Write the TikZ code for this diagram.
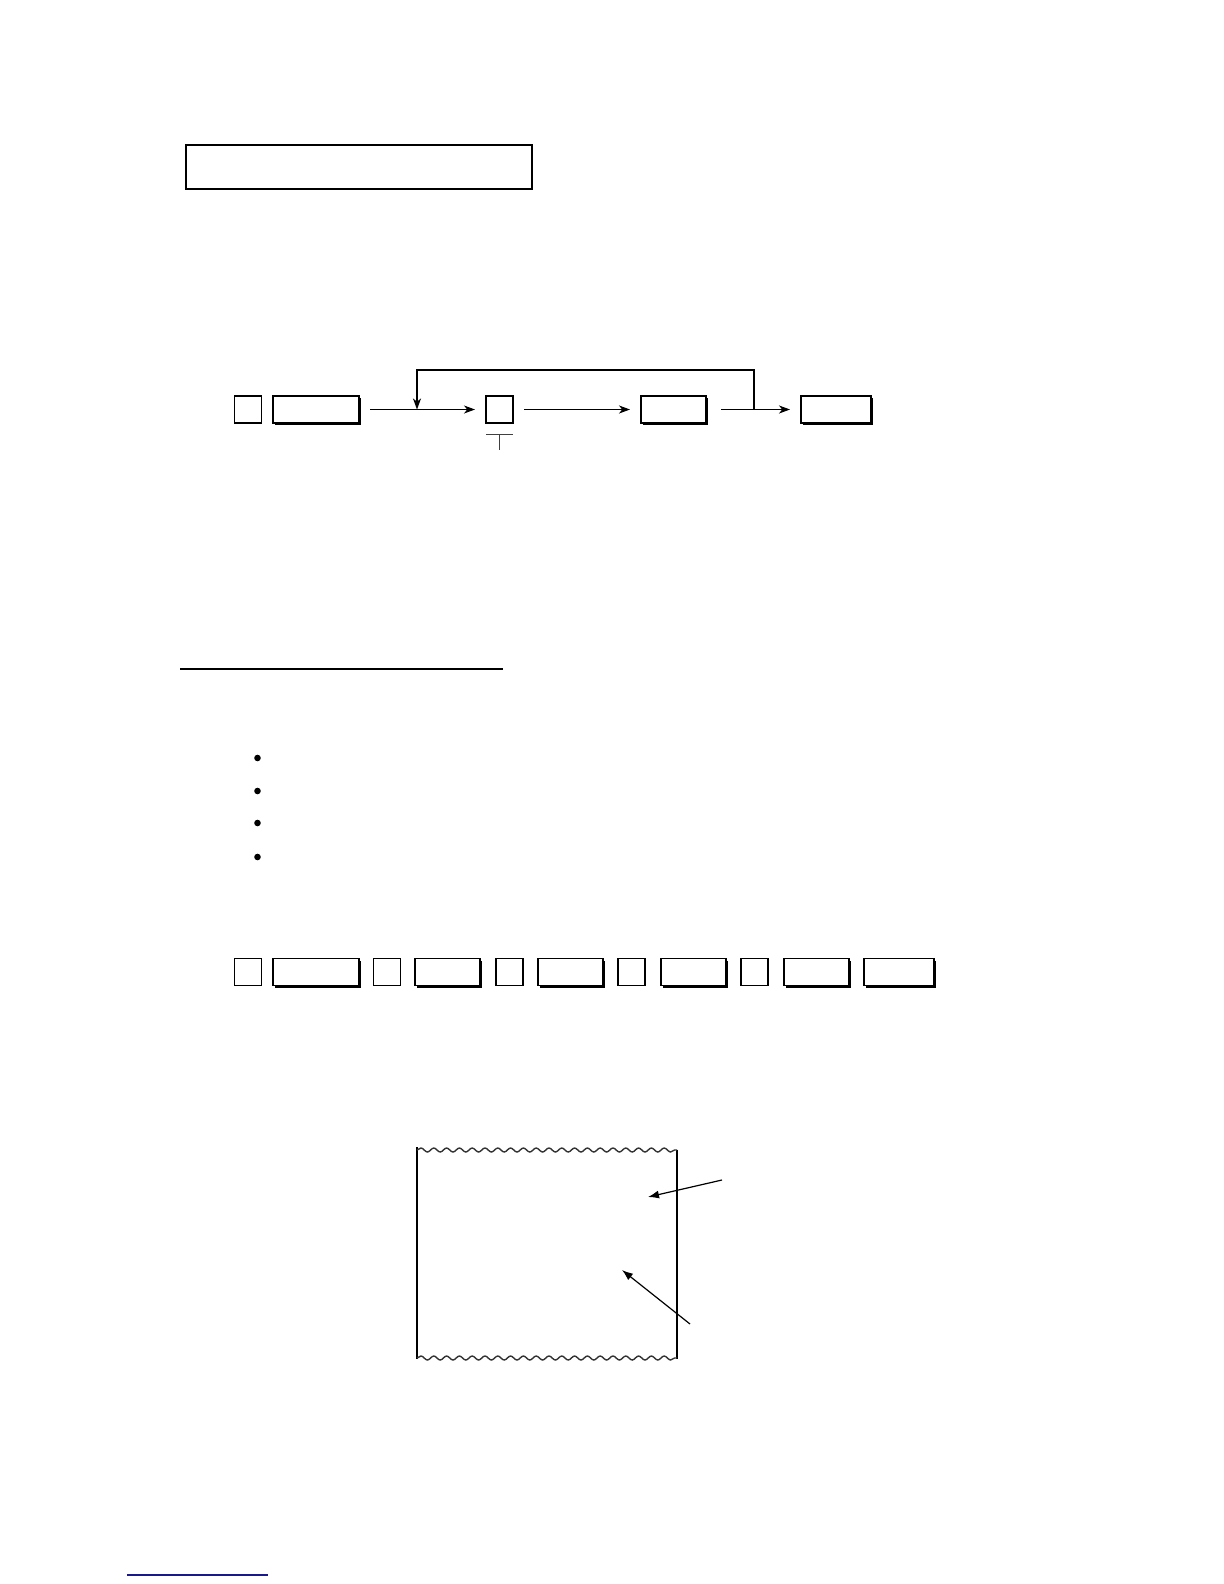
\documentclass[tikz,border=0pt]{standalone}
\usetikzlibrary{arrows.meta, shadows, decorations.pathmorphing}
\tikzset{%
>={Stealth[length=5.5bp,width=4bp,inset=1.6bp]},
  % Specifications for style of key boxes and lines:
            keysmall/.style = {draw=black, fill=white, line width=0.7bp,
                            minimum width=13.5bp, minimum height=13.5bp,
                            inner sep=0pt, outer sep=0pt},
            keywide/.style = {keysmall, drop shadow={shadow xshift=1.2bp,
                            shadow yshift=-1.2bp, fill=black, opacity=1}},
            flow/.style = {->, line width=0.6bp, shorten <=5.5bp, shorten >=5.5bp},
            pointer/.style = {-{Latex[length=5.5bp,width=4bp]}, line width=0.6bp},
            tear/.style = {decorate, decoration={snake, segment length=6.4bp,
                            amplitude=1bp}, line width=0.7bp, draw=black!80}
}
\begin{document}
\begin{tikzpicture}[x=0.5bp, y=-0.5bp]
                        \useasboundingbox (0,0) rectangle (1224,1584);
                        % title frame
                        \node (title)[draw, line width=1.4bp, minimum width=173bp, minimum height=22bp, inner sep=0pt] at (359,167){};
                        % first key sequence
                        \node (k1)[keysmall] at (248,409.5){};
                        \node (k2)[keywide, minimum width=43bp] at (316,409.5){};
                        \node (k3)[keysmall] at (499.5,409.5){};
                        \node (k4)[keywide, minimum width=32.5bp] at (673.5,409.5){};
                        \node (k5)[keywide, minimum width=35bp] at (836,409.5){};
                        \coordinate (merge) at (417,409.5);
                        \coordinate (split) at (754,409.5);
                        \draw[flow] (k2)--(k3);
                        \draw[flow] (k3)--(k4);
                        \draw[flow, shorten <=7.5bp] (k4)--(k5);
                        \draw[flow, shorten <=0pt, shorten >=0pt] (split)--++(0,-39.5)-|(merge);
                        \draw[line width=0.65bp, black!75] ([yshift=-5.8bp]k3.south west)--([yshift=-5.8bp]k3.south east);
                        \draw[line width=0.65bp, black!75] ([yshift=-5.8bp]k3.south)--++(0,15.5);
                        % heading rule and bullets
                        \draw[line width=0.7bp] (180,669)--(503,669);
                        \fill (257.5,758) circle[radius=1.65bp];
                        \fill (257.5,791) circle[radius=1.65bp];
                        \fill (257.5,823) circle[radius=1.65bp];
                        \fill (257.5,857) circle[radius=1.65bp];
                        % second key sequence
                        \node (s1)[keysmall] at (248,972){};
                        \node (w1)[keywide, minimum width=43bp] at (316,972){};
                        \node (s2)[keysmall] at (387,972){};
                        \node (w2)[keywide, minimum width=32.5bp] at (447.5,972){};
                        \node (s3)[keysmall] at (509.5,972){};
                        \node (w3)[keywide, minimum width=32.5bp] at (570.5,972){};
                        \node (s4)[keysmall] at (631.5,972){};
                        \node (w4)[keywide, minimum width=32.5bp] at (693.5,972){};
                        \node (s5)[keysmall] at (754.5,972){};
                        \node (w5)[keywide, minimum width=32.5bp] at (816.5,972){};
                        \node (w6)[keywide, minimum width=35bp] at (899,972){};
                        % receipt
                        \draw[line width=1.2bp] (417,1147)--(417,1359);
                        \draw[line width=1bp] (677,1150)--(677,1359);
                        \draw[tear] (417,1150)--(677,1150);
                        \draw[tear] (417,1358)--(677,1358);
                        \coordinate (c1) at (722,1180);
                        \coordinate (t1) at (648,1197);
                        \coordinate (c2) at (690,1324);
                        \coordinate (t2) at (622,1270);
                        \draw[pointer] (c1)--(t1);
                        \draw[pointer] (c2)--(t2);
                        % page link rule
                        \draw[line width=0.75bp, color={rgb,1:red,0.1;green,0.1;blue,0.55}] (127,1575)--(268,1575);
                    \end{tikzpicture}
\end{document}
